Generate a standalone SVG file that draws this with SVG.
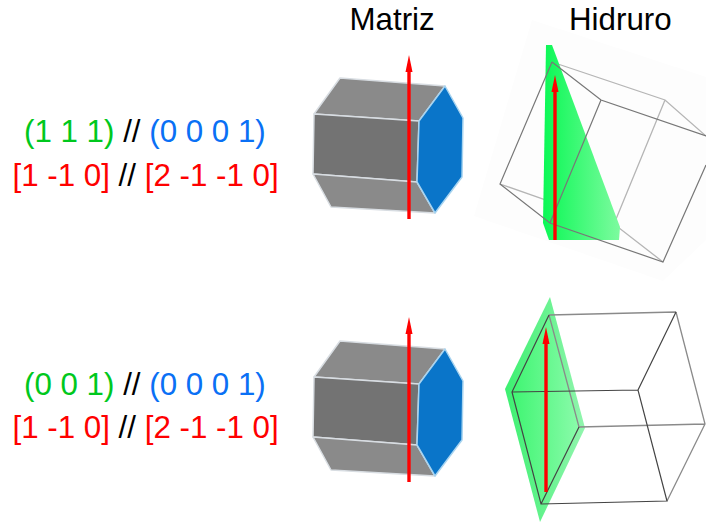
<svg xmlns="http://www.w3.org/2000/svg" width="706" height="523" viewBox="0 0 706 523">
<style>
text{font-family:"Liberation Sans",Arial,sans-serif;font-size:31.3px;fill:#000}
.g{fill:#00c81e}.b{fill:#0a70f5}.r{fill:#f00}
.hl{fill:#8a8a8a;stroke:#d8dde2;stroke-width:1.5;stroke-linejoin:round}
.hm{fill:#737373;stroke:#d8dde2;stroke-width:1.5;stroke-linejoin:round}
.hb{fill:#0a75c9;stroke:#a8d4f0;stroke-width:1.5;stroke-linejoin:round}
.c1{fill:none;stroke:#777;stroke-width:1.2}
.c1l{fill:none;stroke:#b5b5b5;stroke-width:1.3}
.c2{fill:none;stroke:#444;stroke-width:1.2}
.c2l{fill:none;stroke:#8a8a8a;stroke-width:1.3}
.ar{stroke:#f00;stroke-width:3.400;fill:none}
.ah{fill:#f00}
</style>
<defs>
<linearGradient id="g1" gradientUnits="userSpaceOnUse" x1="543" y1="0" x2="620" y2="0"><stop offset="0" stop-color="#0af855"/><stop offset="1" stop-color="#7dfb9f"/></linearGradient>
<linearGradient id="g2" gradientUnits="userSpaceOnUse" x1="505" y1="0" x2="585" y2="0"><stop offset="0" stop-color="#3cf070"/><stop offset="1" stop-color="#92f5ae"/></linearGradient>
<linearGradient id="g3" gradientUnits="userSpaceOnUse" x1="512" y1="0" x2="579" y2="0"><stop offset="0" stop-color="#3ff572"/><stop offset="1" stop-color="#8afbaa"/></linearGradient>
<g id="hex">
<polygon class="hl" points="340,78 445,86 419,121 314,114"/>
<polygon class="hm" points="314,114 419,121 417,182 313,174"/>
<polygon class="hl" points="313,174 417,182 435,213 331,207"/>
<polygon class="hb" points="445,86 463,118 462,177 435,213 417,182 419,121"/>
</g>
</defs>
<g id="header-matriz"><text x="349.500" y="30">Matriz</text></g>
<g id="header-hidruro"><text x="569" y="30">Hidruro</text></g>
<g id="label-top">
<text x="24" y="142"><tspan class="g">(1 1 1)</tspan> // <tspan class="b">(0 0 0 1)</tspan></text>
<text x="12.500" y="186"><tspan class="r">[1 -1 0]</tspan> // <tspan class="r">[2 -1 -1 0]</tspan></text>
</g>
<g id="label-bottom">
<text x="24" y="395"><tspan class="g">(0 0 1)</tspan> // <tspan class="b">(0 0 0 1)</tspan></text>
<text x="12.500" y="438"><tspan class="r">[1 -1 0]</tspan> // <tspan class="r">[2 -1 -1 0]</tspan></text>
</g>
<g id="matrix-top"><use href="#hex"/></g>
<g id="matrix-bottom"><use href="#hex" y="263"/></g>
<g id="hydride-top">
<polygon points="532,20 706,77 706,240 663,281 474,216" fill="#fdfdfd"/>
<path class="c1l" d="M552,62L665,100L706,136M665,100L614,224M500,184L614,224L663,262"/>
<polygon points="546,45 552,45 620,227 619,240 549,240 543,223" fill="url(#g1)"/>
<path class="c1" d="M552,62L601,100L706,136M552,62L500,184L550,223L663,262L706,165M601,100L550,223"/>
</g>
<g id="hydride-bottom">
<polygon points="550,297 505,389 540,522 585,428" fill="url(#g2)"/>
<polygon points="549,315 512,392 541,504 579,427" fill="url(#g3)"/>
<path class="c2l" d="M549,315L579,427L705,424M549,315L676,312M676,312L705,424L667,501"/>
<path class="c2" d="M549,315L512,392L541,504L667,501L638,390L512,392M541,504L579,427M638,390L676,312"/>
</g>
<g id="connectors">
<path class="ar" d="M409,219V70"/><polygon class="ah" points="409,55 405.500,72 412.500,72"/>
<path class="ar" d="M409,482V332"/><polygon class="ah" points="409,317 405.500,334 412.500,334"/>
<path class="ar" d="M555,240V90"/><polygon class="ah" points="555,75 551.500,92 558.500,92"/>
<path class="ar" d="M546,492V341"/><polygon class="ah" points="546,327 542.500,344 549.500,344"/>
</g>
</svg>
